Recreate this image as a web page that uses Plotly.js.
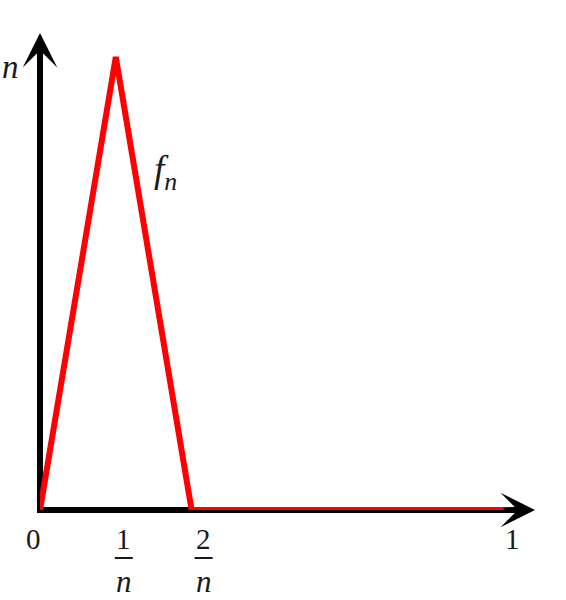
<!DOCTYPE html>
<html>
<head>
<meta charset="utf-8">
<script src="https://cdn.plot.ly/plotly-3.0.1.min.js"></script>
<style>html,body{margin:0;padding:0;background:#fff;}#chart{width:566px;height:600px;}</style>
</head>
<body>
<div id="chart"></div>
<script>
// data
const n = 6.2;
const fnX = [0, 1 / n, 2 / n, 1];
const fnY = [0, n, 0, 0];
const tickVals = [0, 1 / n, 2 / n, 1];
const tickNums = ['0', '1', '2', '1'];
const tickDens = ['', '<i>n</i>', '<i>n</i>', ''];

const xMax = 1.0851, yMax = 6.707;
const xTip = 1.0532, yTip = 6.529;
const numFont = {family: 'Liberation Serif', size: 29, color: '#1a1a1a'};
const itFont = {family: 'Liberation Serif', size: 33, color: '#1a1a1a'};
const fFont = {family: 'Liberation Serif', size: 37, color: '#1a1a1a'};
const denFont = {family: 'Liberation Serif', size: 31, color: '#1a1a1a'};

const shapes = [
  {type: 'line', xref: 'paper', yref: 'paper', x0: -3 / 510, y0: 0, x1: (xTip - 0.02) / xMax, y1: 0, line: {color: 'black', width: 6}, layer: 'below'},
  {type: 'line', xref: 'paper', yref: 'paper', x0: 0, y0: -3 / 490, x1: 0, y1: (yTip - 0.2) / yMax, line: {color: 'black', width: 6}, layer: 'below'}
];
const annotations = [
  {x: xTip, y: 0, ax: xTip - 0.07, ay: 0, axref: 'x', ayref: 'y', xref: 'x', yref: 'y', text: '', showarrow: true, arrowhead: 3, arrowwidth: 5, arrowsize: 1.15, arrowcolor: 'black'},
  {x: 0, y: yTip, ax: 0, ay: yTip - 0.5, axref: 'x', ayref: 'y', xref: 'x', yref: 'y', text: '', showarrow: true, arrowhead: 3, arrowwidth: 5, arrowsize: 1.15, arrowcolor: 'black'},
  {xref: 'paper', yref: 'paper', x: -0.058, y: 0.905, xanchor: 'center', yanchor: 'middle', text: '<i>n</i>', showarrow: false, font: itFont},
  {xref: 'x', yref: 'y', x: 0.267, y: 4.62, xanchor: 'center', yanchor: 'middle', text: '<i>f<sub>n</sub></i>', showarrow: false, font: fFont}
];
const shifts = [-7, 8, 12, 2];
const barY = -48 / 490;
tickVals.forEach((v, i) => {
  annotations.push({xref: 'x', yref: 'y', x: v, y: 0, xshift: shifts[i], yshift: -29, xanchor: 'center', yanchor: 'middle', text: tickNums[i], showarrow: false, font: numFont});
  if (tickDens[i]) {
    annotations.push({xref: 'x', yref: 'y', x: v, y: 0, xshift: shifts[i], yshift: -71, xanchor: 'center', yanchor: 'middle', text: tickDens[i], showarrow: false, font: denFont});
    shapes.push({type: 'line', xref: 'x', yref: 'paper', xsizemode: 'pixel', xanchor: v,
      x0: shifts[i] - 9, x1: shifts[i] + 9, y0: barY, y1: barY, line: {color: '#1a1a1a', width: 2}});
  }
});

const trace = {x: fnX, y: fnY, type: 'scatter', mode: 'lines', line: {color: '#ff0000', width: 6}, hoverinfo: 'skip', cliponaxis: false};

const layout = {
  width: 566, height: 600,
  margin: {l: 40, r: 16, t: 20, b: 90},
  paper_bgcolor: 'white', plot_bgcolor: 'white',
  showlegend: false,
  xaxis: {range: [0, xMax], visible: false, fixedrange: true},
  yaxis: {range: [0, yMax], visible: false, fixedrange: true},
  shapes: shapes,
  annotations: annotations
};
Plotly.newPlot('chart', [trace], layout, {displayModeBar: false, staticPlot: true});
</script>
</body>
</html>
